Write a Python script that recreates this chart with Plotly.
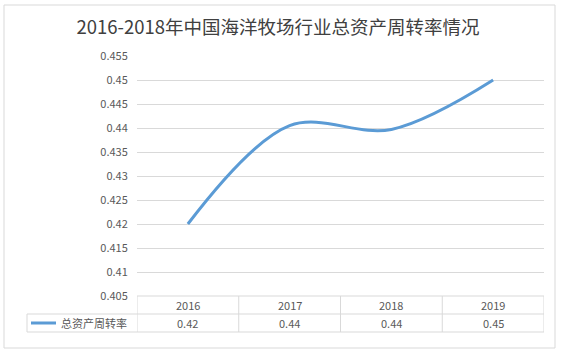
import plotly.graph_objects as go

title = "2016-2018年中国海洋牧场行业总资产周转率情况"
series_name = "总资产周转率"
years = ["2016", "2017", "2018", "2019"]
values = [0.42, 0.4405, 0.4397, 0.45]
y_ticks = [0.405, 0.41, 0.415, 0.42, 0.425, 0.43, 0.435, 0.44, 0.445, 0.45, 0.455]
y_ticktext = ["0.405", "0.41", "0.415", "0.42", "0.425", "0.43", "0.435", "0.44", "0.445", "0.45", "0.455"]

W, H = 564, 353
L, R, T, B = 137, 20, 56, 57
pw, ph = W - L - R, H - T - B

def px_x(p):
    return (p - L) / pw

def px_y(p):
    return (H - B - p) / ph

font = "Noto Sans CJK SC, Microsoft YaHei, sans-serif"
grid = "#d9d9d9"
txt = "#595959"
blue = "#5B9BD5"

fig = go.Figure()
fig.add_trace(go.Scatter(
    x=list(range(len(years))), y=values, mode="lines",
    line=dict(color=blue, width=3, shape="spline", smoothing=1.0),
    showlegend=False, hoverinfo="skip"))

shapes = []
n = len(years)
row1 = px_y(314)
row2 = px_y(332)
leg_left = px_x(27)
line_style = dict(color=grid, width=1)
for i in range(n + 1):
    shapes.append(dict(type="line", xref="x", yref="paper", x0=i - 0.5, x1=i - 0.5,
                       y0=0, y1=row2, line=line_style))
shapes.append(dict(type="line", xref="x", yref="paper", x0=-0.5, x1=n - 0.5, y0=0, y1=0, line=line_style))
shapes.append(dict(type="line", xref="paper", yref="paper", x0=leg_left, x1=1, y0=row1, y1=row1, line=line_style))
shapes.append(dict(type="line", xref="paper", yref="paper", x0=leg_left, x1=1, y0=row2, y1=row2, line=line_style))
shapes.append(dict(type="line", xref="paper", yref="paper", x0=leg_left, x1=leg_left, y0=row1, y1=row2, line=line_style))
shapes.append(dict(type="line", xref="paper", yref="paper", x0=px_x(31), x1=px_x(56),
                   y0=px_y(323), y1=px_y(323), line=dict(color=blue, width=3)))
shapes.append(dict(type="rect", xref="paper", yref="paper", x0=px_x(4), x1=px_x(555),
                   y0=px_y(348), y1=px_y(5), line=dict(color="#d9d9d9", width=1)))

annotations = []
for i, (yr, v) in enumerate(zip(years, values)):
    annotations.append(dict(x=i, y=px_y(305), xref="x", yref="paper", text=yr, showarrow=False,
                            font=dict(family=font, size=11, color=txt), yanchor="middle"))
    annotations.append(dict(x=i, y=px_y(323), xref="x", yref="paper", text=f"{v:.2f}", showarrow=False,
                            font=dict(family=font, size=11, color=txt), yanchor="middle"))
annotations.append(dict(x=px_x(59), y=px_y(323), xref="paper", yref="paper", text=series_name,
                        showarrow=False, xanchor="left", yanchor="middle",
                        font=dict(family=font, size=11, color=txt)))

fig.update_layout(
    width=W, height=H,
    margin=dict(l=L, r=R, t=T, b=B),
    paper_bgcolor="white", plot_bgcolor="white",
    title=dict(text=title, x=278 / W, xref="container", y=1 - 28 / H, yref="container",
               xanchor="center", yanchor="middle",
               font=dict(family=font, size=18.5, color="#404040")),
    xaxis=dict(range=[-0.5, n - 0.5], showticklabels=False, showgrid=False, zeroline=False,
               showline=False, fixedrange=True),
    yaxis=dict(range=[0.405, 0.455], tickvals=y_ticks, ticktext=y_ticktext, showgrid=True,
               gridcolor=grid, gridwidth=1, zeroline=False, showline=False,
               tickfont=dict(family=font, size=11, color=txt), ticks="outside",
               ticklen=6, tickcolor="rgba(0,0,0,0)"),
    shapes=shapes, annotations=annotations,
    showlegend=False,
)
fig.write_html("out.html")
